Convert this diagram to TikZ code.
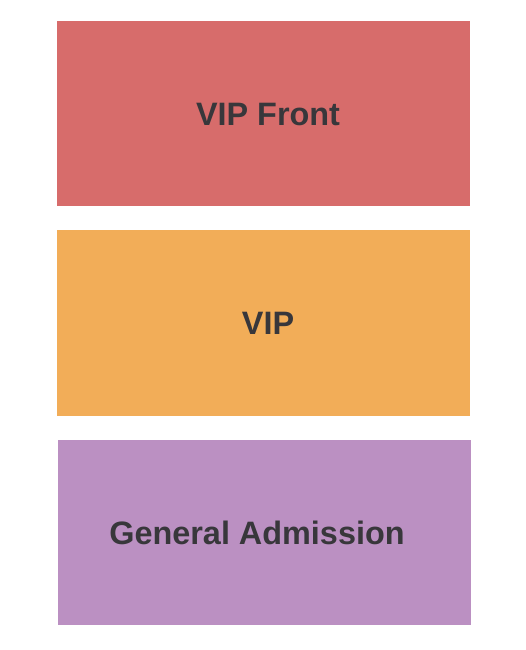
\documentclass[tikz,border=0pt]{standalone}
\usepackage{fontspec}
\setmainfont{Liberation Sans}
\usepackage{tikz}

\definecolor{frontred}{HTML}{D76C6B}
\definecolor{viporange}{HTML}{F2AD58}
\definecolor{gapurple}{HTML}{BB90C2}
\definecolor{labelgray}{HTML}{38373B}

\begin{document}
\begin{tikzpicture}[x=1pt,y=-1pt,
    section/.style={draw=none,fill=#1},
    seclabel/.style={anchor=base,inner sep=0pt,text=labelgray,font=\bfseries\fontsize{32.4}{36}\selectfont}]
        \useasboundingbox (0,0) rectangle (525,650);
        \path[section=frontred] (57,21) rectangle (469.5,206);
        \path[section=viporange] (57,230) rectangle (469.5,415.5);
        \path[section=gapurple] (58,439.5) rectangle (470.5,625);
        \node[seclabel] (front) at (268,125.5) {VIP Front};
        \node[seclabel] (vip) at (268,334.5) {VIP};
        \node[seclabel] (ga) at (257,544) {General Admission};
      \end{tikzpicture}
\end{document}
